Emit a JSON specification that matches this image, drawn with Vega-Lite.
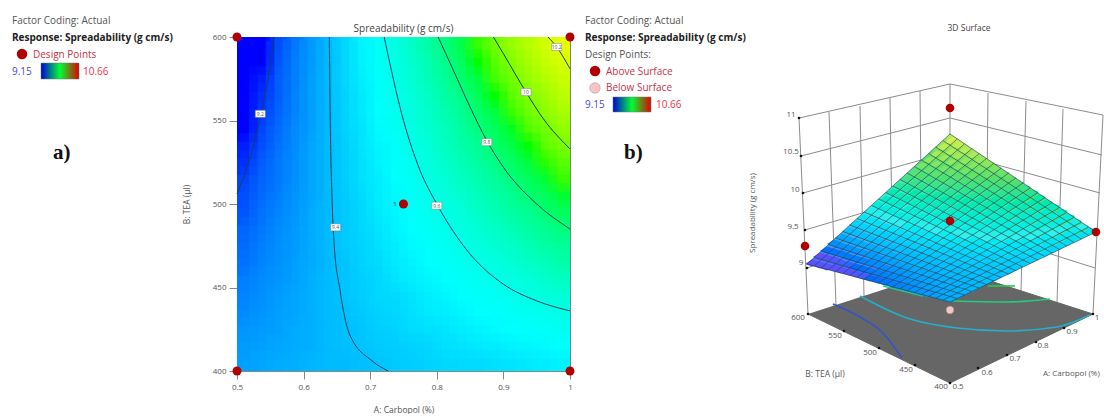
{"$schema":"https://vega.github.io/schema/vega-lite/v6.json","background":"white","padding":{"left":0,"top":16,"right":0,"bottom":0},"spacing":0,"bounds":"flush","config":{"view":{"stroke":null},"font":"Open Sans"},
"datasets":{
"cells":[
{"a":0.5125,"b":405,"z":9.33,"u":950,"v":299},{"a":0.5375,"b":405,"z":9.34,"u":957,"v":296},{"a":0.5625,"b":405,"z":9.35,"u":965,"v":292},{"a":0.5875,"b":405,"z":9.36,"u":972,"v":289},{"a":0.6125,"b":405,"z":9.37,"u":979,"v":285},{"a":0.6375,"b":405,"z":9.38,"u":987,"v":281},{"a":0.6625,"b":405,"z":9.38,"u":994,"v":278},{"a":0.6875,"b":405,"z":9.39,"u":1001,"v":274},{"a":0.7125,"b":405,"z":9.4,"u":1009,"v":271},{"a":0.7375,"b":405,"z":9.41,"u":1016,"v":267},{"a":0.7625,"b":405,"z":9.42,"u":1024,"v":263},{"a":0.7875,"b":405,"z":9.43,"u":1031,"v":260},{"a":0.8125,"b":405,"z":9.44,"u":1038,"v":256},{"a":0.8375,"b":405,"z":9.45,"u":1046,"v":253},{"a":0.8625,"b":405,"z":9.45,"u":1053,"v":249},{"a":0.8875,"b":405,"z":9.46,"u":1060,"v":246},{"a":0.9125,"b":405,"z":9.47,"u":1068,"v":242},{"a":0.9375,"b":405,"z":9.48,"u":1075,"v":238},{"a":0.9625,"b":405,"z":9.49,"u":1082,"v":235},{"a":0.9875,"b":405,"z":9.5,"u":1090,"v":231},
{"a":0.5125,"b":415,"z":9.32,"u":943,"v":297},{"a":0.5375,"b":415,"z":9.33,"u":950,"v":294},{"a":0.5625,"b":415,"z":9.34,"u":958,"v":290},{"a":0.5875,"b":415,"z":9.35,"u":965,"v":286},{"a":0.6125,"b":415,"z":9.36,"u":972,"v":282},{"a":0.6375,"b":415,"z":9.38,"u":980,"v":279},{"a":0.6625,"b":415,"z":9.39,"u":987,"v":275},{"a":0.6875,"b":415,"z":9.4,"u":994,"v":271},{"a":0.7125,"b":415,"z":9.41,"u":1002,"v":268},{"a":0.7375,"b":415,"z":9.42,"u":1009,"v":264},{"a":0.7625,"b":415,"z":9.43,"u":1016,"v":260},{"a":0.7875,"b":415,"z":9.44,"u":1024,"v":256},{"a":0.8125,"b":415,"z":9.46,"u":1031,"v":253},{"a":0.8375,"b":415,"z":9.47,"u":1038,"v":249},{"a":0.8625,"b":415,"z":9.48,"u":1046,"v":245},{"a":0.8875,"b":415,"z":9.49,"u":1053,"v":241},{"a":0.9125,"b":415,"z":9.5,"u":1060,"v":238},{"a":0.9375,"b":415,"z":9.51,"u":1068,"v":234},{"a":0.9625,"b":415,"z":9.52,"u":1075,"v":230},{"a":0.9875,"b":415,"z":9.53,"u":1082,"v":227},
{"a":0.5125,"b":425,"z":9.31,"u":936,"v":295},{"a":0.5375,"b":425,"z":9.32,"u":943,"v":292},{"a":0.5625,"b":425,"z":9.33,"u":950,"v":288},{"a":0.5875,"b":425,"z":9.35,"u":958,"v":284},{"a":0.6125,"b":425,"z":9.36,"u":965,"v":280},{"a":0.6375,"b":425,"z":9.38,"u":972,"v":276},{"a":0.6625,"b":425,"z":9.39,"u":979,"v":272},{"a":0.6875,"b":425,"z":9.4,"u":987,"v":268},{"a":0.7125,"b":425,"z":9.42,"u":994,"v":264},{"a":0.7375,"b":425,"z":9.43,"u":1002,"v":261},{"a":0.7625,"b":425,"z":9.45,"u":1009,"v":257},{"a":0.7875,"b":425,"z":9.46,"u":1016,"v":253},{"a":0.8125,"b":425,"z":9.47,"u":1024,"v":249},{"a":0.8375,"b":425,"z":9.49,"u":1031,"v":245},{"a":0.8625,"b":425,"z":9.5,"u":1038,"v":241},{"a":0.8875,"b":425,"z":9.52,"u":1046,"v":237},{"a":0.9125,"b":425,"z":9.53,"u":1053,"v":233},{"a":0.9375,"b":425,"z":9.54,"u":1060,"v":229},{"a":0.9625,"b":425,"z":9.56,"u":1068,"v":226},{"a":0.9875,"b":425,"z":9.57,"u":1075,"v":222},
{"a":0.5125,"b":435,"z":9.29,"u":928,"v":294},{"a":0.5375,"b":435,"z":9.31,"u":936,"v":289},{"a":0.5625,"b":435,"z":9.33,"u":943,"v":285},{"a":0.5875,"b":435,"z":9.34,"u":950,"v":281},{"a":0.6125,"b":435,"z":9.36,"u":958,"v":277},{"a":0.6375,"b":435,"z":9.38,"u":965,"v":273},{"a":0.6625,"b":435,"z":9.39,"u":972,"v":269},{"a":0.6875,"b":435,"z":9.41,"u":980,"v":265},{"a":0.7125,"b":435,"z":9.43,"u":987,"v":261},{"a":0.7375,"b":435,"z":9.44,"u":994,"v":257},{"a":0.7625,"b":435,"z":9.46,"u":1002,"v":253},{"a":0.7875,"b":435,"z":9.48,"u":1009,"v":249},{"a":0.8125,"b":435,"z":9.49,"u":1016,"v":245},{"a":0.8375,"b":435,"z":9.51,"u":1024,"v":241},{"a":0.8625,"b":435,"z":9.53,"u":1031,"v":237},{"a":0.8875,"b":435,"z":9.54,"u":1039,"v":233},{"a":0.9125,"b":435,"z":9.56,"u":1046,"v":229},{"a":0.9375,"b":435,"z":9.58,"u":1053,"v":225},{"a":0.9625,"b":435,"z":9.59,"u":1060,"v":221},{"a":0.9875,"b":435,"z":9.61,"u":1068,"v":217},
{"a":0.5125,"b":445,"z":9.28,"u":921,"v":292},{"a":0.5375,"b":445,"z":9.3,"u":928,"v":287},{"a":0.5625,"b":445,"z":9.32,"u":936,"v":283},{"a":0.5875,"b":445,"z":9.34,"u":943,"v":279},{"a":0.6125,"b":445,"z":9.36,"u":950,"v":275},{"a":0.6375,"b":445,"z":9.38,"u":958,"v":271},{"a":0.6625,"b":445,"z":9.4,"u":965,"v":267},{"a":0.6875,"b":445,"z":9.42,"u":972,"v":262},{"a":0.7125,"b":445,"z":9.44,"u":980,"v":258},{"a":0.7375,"b":445,"z":9.45,"u":987,"v":254},{"a":0.7625,"b":445,"z":9.47,"u":995,"v":250},{"a":0.7875,"b":445,"z":9.49,"u":1002,"v":246},{"a":0.8125,"b":445,"z":9.51,"u":1009,"v":242},{"a":0.8375,"b":445,"z":9.53,"u":1017,"v":237},{"a":0.8625,"b":445,"z":9.55,"u":1024,"v":233},{"a":0.8875,"b":445,"z":9.57,"u":1031,"v":229},{"a":0.9125,"b":445,"z":9.59,"u":1039,"v":225},{"a":0.9375,"b":445,"z":9.61,"u":1046,"v":221},{"a":0.9625,"b":445,"z":9.63,"u":1053,"v":216},{"a":0.9875,"b":445,"z":9.65,"u":1061,"v":212},
{"a":0.5125,"b":455,"z":9.27,"u":914,"v":290},{"a":0.5375,"b":455,"z":9.29,"u":921,"v":285},{"a":0.5625,"b":455,"z":9.31,"u":928,"v":281},{"a":0.5875,"b":455,"z":9.33,"u":936,"v":277},{"a":0.6125,"b":455,"z":9.36,"u":943,"v":272},{"a":0.6375,"b":455,"z":9.38,"u":950,"v":268},{"a":0.6625,"b":455,"z":9.4,"u":958,"v":264},{"a":0.6875,"b":455,"z":9.42,"u":965,"v":259},{"a":0.7125,"b":455,"z":9.44,"u":972,"v":255},{"a":0.7375,"b":455,"z":9.47,"u":980,"v":251},{"a":0.7625,"b":455,"z":9.49,"u":987,"v":246},{"a":0.7875,"b":455,"z":9.51,"u":994,"v":242},{"a":0.8125,"b":455,"z":9.53,"u":1002,"v":238},{"a":0.8375,"b":455,"z":9.55,"u":1009,"v":233},{"a":0.8625,"b":455,"z":9.58,"u":1017,"v":229},{"a":0.8875,"b":455,"z":9.6,"u":1024,"v":225},{"a":0.9125,"b":455,"z":9.62,"u":1031,"v":220},{"a":0.9375,"b":455,"z":9.64,"u":1039,"v":216},{"a":0.9625,"b":455,"z":9.67,"u":1046,"v":212},{"a":0.9875,"b":455,"z":9.69,"u":1053,"v":207},
{"a":0.5125,"b":465,"z":9.25,"u":907,"v":288},{"a":0.5375,"b":465,"z":9.28,"u":914,"v":283},{"a":0.5625,"b":465,"z":9.3,"u":921,"v":279},{"a":0.5875,"b":465,"z":9.33,"u":928,"v":274},{"a":0.6125,"b":465,"z":9.35,"u":936,"v":270},{"a":0.6375,"b":465,"z":9.38,"u":943,"v":265},{"a":0.6625,"b":465,"z":9.4,"u":951,"v":261},{"a":0.6875,"b":465,"z":9.43,"u":958,"v":256},{"a":0.7125,"b":465,"z":9.45,"u":965,"v":252},{"a":0.7375,"b":465,"z":9.48,"u":973,"v":247},{"a":0.7625,"b":465,"z":9.5,"u":980,"v":243},{"a":0.7875,"b":465,"z":9.53,"u":987,"v":238},{"a":0.8125,"b":465,"z":9.55,"u":995,"v":234},{"a":0.8375,"b":465,"z":9.58,"u":1002,"v":230},{"a":0.8625,"b":465,"z":9.6,"u":1009,"v":225},{"a":0.8875,"b":465,"z":9.63,"u":1017,"v":221},{"a":0.9125,"b":465,"z":9.65,"u":1024,"v":216},{"a":0.9375,"b":465,"z":9.68,"u":1031,"v":212},{"a":0.9625,"b":465,"z":9.7,"u":1039,"v":207},{"a":0.9875,"b":465,"z":9.73,"u":1046,"v":203},
{"a":0.5125,"b":475,"z":9.24,"u":899,"v":286},{"a":0.5375,"b":475,"z":9.27,"u":907,"v":281},{"a":0.5625,"b":475,"z":9.3,"u":914,"v":277},{"a":0.5875,"b":475,"z":9.32,"u":921,"v":272},{"a":0.6125,"b":475,"z":9.35,"u":929,"v":267},{"a":0.6375,"b":475,"z":9.38,"u":936,"v":263},{"a":0.6625,"b":475,"z":9.41,"u":943,"v":258},{"a":0.6875,"b":475,"z":9.43,"u":951,"v":253},{"a":0.7125,"b":475,"z":9.46,"u":958,"v":249},{"a":0.7375,"b":475,"z":9.49,"u":966,"v":244},{"a":0.7625,"b":475,"z":9.52,"u":973,"v":240},{"a":0.7875,"b":475,"z":9.54,"u":980,"v":235},{"a":0.8125,"b":475,"z":9.57,"u":988,"v":230},{"a":0.8375,"b":475,"z":9.6,"u":995,"v":226},{"a":0.8625,"b":475,"z":9.63,"u":1002,"v":221},{"a":0.8875,"b":475,"z":9.65,"u":1010,"v":216},{"a":0.9125,"b":475,"z":9.68,"u":1017,"v":212},{"a":0.9375,"b":475,"z":9.71,"u":1024,"v":207},{"a":0.9625,"b":475,"z":9.74,"u":1032,"v":203},{"a":0.9875,"b":475,"z":9.76,"u":1039,"v":198},
{"a":0.5125,"b":485,"z":9.23,"u":892,"v":284},{"a":0.5375,"b":485,"z":9.26,"u":899,"v":279},{"a":0.5625,"b":485,"z":9.29,"u":907,"v":274},{"a":0.5875,"b":485,"z":9.32,"u":914,"v":270},{"a":0.6125,"b":485,"z":9.35,"u":921,"v":265},{"a":0.6375,"b":485,"z":9.38,"u":929,"v":260},{"a":0.6625,"b":485,"z":9.41,"u":936,"v":255},{"a":0.6875,"b":485,"z":9.44,"u":943,"v":250},{"a":0.7125,"b":485,"z":9.47,"u":951,"v":246},{"a":0.7375,"b":485,"z":9.5,"u":958,"v":241},{"a":0.7625,"b":485,"z":9.53,"u":966,"v":236},{"a":0.7875,"b":485,"z":9.56,"u":973,"v":231},{"a":0.8125,"b":485,"z":9.59,"u":980,"v":227},{"a":0.8375,"b":485,"z":9.62,"u":988,"v":222},{"a":0.8625,"b":485,"z":9.65,"u":995,"v":217},{"a":0.8875,"b":485,"z":9.68,"u":1002,"v":212},{"a":0.9125,"b":485,"z":9.71,"u":1010,"v":207},{"a":0.9375,"b":485,"z":9.74,"u":1017,"v":203},{"a":0.9625,"b":485,"z":9.77,"u":1024,"v":198},{"a":0.9875,"b":485,"z":9.8,"u":1032,"v":193},
{"a":0.5125,"b":495,"z":9.21,"u":885,"v":282},{"a":0.5375,"b":495,"z":9.25,"u":892,"v":277},{"a":0.5625,"b":495,"z":9.28,"u":899,"v":272},{"a":0.5875,"b":495,"z":9.31,"u":907,"v":267},{"a":0.6125,"b":495,"z":9.35,"u":914,"v":262},{"a":0.6375,"b":495,"z":9.38,"u":922,"v":257},{"a":0.6625,"b":495,"z":9.41,"u":929,"v":252},{"a":0.6875,"b":495,"z":9.44,"u":936,"v":247},{"a":0.7125,"b":495,"z":9.48,"u":944,"v":243},{"a":0.7375,"b":495,"z":9.51,"u":951,"v":238},{"a":0.7625,"b":495,"z":9.54,"u":958,"v":233},{"a":0.7875,"b":495,"z":9.58,"u":966,"v":228},{"a":0.8125,"b":495,"z":9.61,"u":973,"v":223},{"a":0.8375,"b":495,"z":9.64,"u":980,"v":218},{"a":0.8625,"b":495,"z":9.68,"u":988,"v":213},{"a":0.8875,"b":495,"z":9.71,"u":995,"v":208},{"a":0.9125,"b":495,"z":9.74,"u":1002,"v":203},{"a":0.9375,"b":495,"z":9.77,"u":1010,"v":198},{"a":0.9625,"b":495,"z":9.81,"u":1017,"v":193},{"a":0.9875,"b":495,"z":9.84,"u":1024,"v":188},
{"a":0.5125,"b":505,"z":9.2,"u":878,"v":280},{"a":0.5375,"b":505,"z":9.24,"u":885,"v":275},{"a":0.5625,"b":505,"z":9.27,"u":892,"v":270},{"a":0.5875,"b":505,"z":9.31,"u":899,"v":265},{"a":0.6125,"b":505,"z":9.34,"u":907,"v":260},{"a":0.6375,"b":505,"z":9.38,"u":914,"v":255},{"a":0.6625,"b":505,"z":9.41,"u":921,"v":250},{"a":0.6875,"b":505,"z":9.45,"u":929,"v":245},{"a":0.7125,"b":505,"z":9.49,"u":936,"v":239},{"a":0.7375,"b":505,"z":9.52,"u":944,"v":234},{"a":0.7625,"b":505,"z":9.56,"u":951,"v":229},{"a":0.7875,"b":505,"z":9.59,"u":958,"v":224},{"a":0.8125,"b":505,"z":9.63,"u":966,"v":219},{"a":0.8375,"b":505,"z":9.66,"u":973,"v":214},{"a":0.8625,"b":505,"z":9.7,"u":980,"v":209},{"a":0.8875,"b":505,"z":9.73,"u":988,"v":204},{"a":0.9125,"b":505,"z":9.77,"u":995,"v":199},{"a":0.9375,"b":505,"z":9.81,"u":1002,"v":194},{"a":0.9625,"b":505,"z":9.84,"u":1010,"v":189},{"a":0.9875,"b":505,"z":9.88,"u":1017,"v":184},
{"a":0.5125,"b":515,"z":9.19,"u":870,"v":278},{"a":0.5375,"b":515,"z":9.23,"u":878,"v":273},{"a":0.5625,"b":515,"z":9.26,"u":885,"v":268},{"a":0.5875,"b":515,"z":9.3,"u":892,"v":262},{"a":0.6125,"b":515,"z":9.34,"u":900,"v":257},{"a":0.6375,"b":515,"z":9.38,"u":907,"v":252},{"a":0.6625,"b":515,"z":9.42,"u":914,"v":247},{"a":0.6875,"b":515,"z":9.46,"u":922,"v":241},{"a":0.7125,"b":515,"z":9.49,"u":929,"v":236},{"a":0.7375,"b":515,"z":9.53,"u":936,"v":231},{"a":0.7625,"b":515,"z":9.57,"u":944,"v":226},{"a":0.7875,"b":515,"z":9.61,"u":951,"v":221},{"a":0.8125,"b":515,"z":9.65,"u":958,"v":215},{"a":0.8375,"b":515,"z":9.69,"u":966,"v":210},{"a":0.8625,"b":515,"z":9.72,"u":973,"v":205},{"a":0.8875,"b":515,"z":9.76,"u":980,"v":200},{"a":0.9125,"b":515,"z":9.8,"u":988,"v":194},{"a":0.9375,"b":515,"z":9.84,"u":995,"v":189},{"a":0.9625,"b":515,"z":9.88,"u":1003,"v":184},{"a":0.9875,"b":515,"z":9.92,"u":1010,"v":179},
{"a":0.5125,"b":525,"z":9.17,"u":863,"v":276},{"a":0.5375,"b":525,"z":9.22,"u":870,"v":271},{"a":0.5625,"b":525,"z":9.26,"u":878,"v":265},{"a":0.5875,"b":525,"z":9.3,"u":885,"v":260},{"a":0.6125,"b":525,"z":9.34,"u":892,"v":255},{"a":0.6375,"b":525,"z":9.38,"u":900,"v":249},{"a":0.6625,"b":525,"z":9.42,"u":907,"v":244},{"a":0.6875,"b":525,"z":9.46,"u":914,"v":239},{"a":0.7125,"b":525,"z":9.5,"u":922,"v":233},{"a":0.7375,"b":525,"z":9.54,"u":929,"v":228},{"a":0.7625,"b":525,"z":9.58,"u":937,"v":222},{"a":0.7875,"b":525,"z":9.63,"u":944,"v":217},{"a":0.8125,"b":525,"z":9.67,"u":951,"v":212},{"a":0.8375,"b":525,"z":9.71,"u":959,"v":206},{"a":0.8625,"b":525,"z":9.75,"u":966,"v":201},{"a":0.8875,"b":525,"z":9.79,"u":973,"v":196},{"a":0.9125,"b":525,"z":9.83,"u":981,"v":190},{"a":0.9375,"b":525,"z":9.87,"u":988,"v":185},{"a":0.9625,"b":525,"z":9.91,"u":995,"v":179},{"a":0.9875,"b":525,"z":9.95,"u":1003,"v":174},
{"a":0.5125,"b":535,"z":9.16,"u":856,"v":274},{"a":0.5375,"b":535,"z":9.2,"u":863,"v":269},{"a":0.5625,"b":535,"z":9.25,"u":871,"v":263},{"a":0.5875,"b":535,"z":9.29,"u":878,"v":258},{"a":0.6125,"b":535,"z":9.34,"u":885,"v":252},{"a":0.6375,"b":535,"z":9.38,"u":893,"v":247},{"a":0.6625,"b":535,"z":9.42,"u":900,"v":241},{"a":0.6875,"b":535,"z":9.47,"u":907,"v":236},{"a":0.7125,"b":535,"z":9.51,"u":915,"v":230},{"a":0.7375,"b":535,"z":9.55,"u":922,"v":225},{"a":0.7625,"b":535,"z":9.6,"u":929,"v":219},{"a":0.7875,"b":535,"z":9.64,"u":937,"v":214},{"a":0.8125,"b":535,"z":9.69,"u":944,"v":208},{"a":0.8375,"b":535,"z":9.73,"u":951,"v":202},{"a":0.8625,"b":535,"z":9.77,"u":959,"v":197},{"a":0.8875,"b":535,"z":9.82,"u":966,"v":191},{"a":0.9125,"b":535,"z":9.86,"u":973,"v":186},{"a":0.9375,"b":535,"z":9.9,"u":981,"v":180},{"a":0.9625,"b":535,"z":9.95,"u":988,"v":175},{"a":0.9875,"b":535,"z":9.99,"u":995,"v":169},
{"a":0.5125,"b":545,"z":9.15,"u":849,"v":272},{"a":0.5375,"b":545,"z":9.19,"u":856,"v":267},{"a":0.5625,"b":545,"z":9.24,"u":863,"v":261},{"a":0.5875,"b":545,"z":9.29,"u":871,"v":255},{"a":0.6125,"b":545,"z":9.33,"u":878,"v":250},{"a":0.6375,"b":545,"z":9.38,"u":885,"v":244},{"a":0.6625,"b":545,"z":9.43,"u":893,"v":238},{"a":0.6875,"b":545,"z":9.47,"u":900,"v":233},{"a":0.7125,"b":545,"z":9.52,"u":907,"v":227},{"a":0.7375,"b":545,"z":9.57,"u":915,"v":221},{"a":0.7625,"b":545,"z":9.61,"u":922,"v":216},{"a":0.7875,"b":545,"z":9.66,"u":929,"v":210},{"a":0.8125,"b":545,"z":9.7,"u":937,"v":204},{"a":0.8375,"b":545,"z":9.75,"u":944,"v":199},{"a":0.8625,"b":545,"z":9.8,"u":951,"v":193},{"a":0.8875,"b":545,"z":9.84,"u":959,"v":187},{"a":0.9125,"b":545,"z":9.89,"u":966,"v":181},{"a":0.9375,"b":545,"z":9.94,"u":973,"v":176},{"a":0.9625,"b":545,"z":9.98,"u":981,"v":170},{"a":0.9875,"b":545,"z":10.03,"u":988,"v":164},
{"a":0.5125,"b":555,"z":9.13,"u":841,"v":270},{"a":0.5375,"b":555,"z":9.18,"u":849,"v":265},{"a":0.5625,"b":555,"z":9.23,"u":856,"v":259},{"a":0.5875,"b":555,"z":9.28,"u":863,"v":253},{"a":0.6125,"b":555,"z":9.33,"u":871,"v":247},{"a":0.6375,"b":555,"z":9.38,"u":878,"v":241},{"a":0.6625,"b":555,"z":9.43,"u":885,"v":235},{"a":0.6875,"b":555,"z":9.48,"u":893,"v":230},{"a":0.7125,"b":555,"z":9.53,"u":900,"v":224},{"a":0.7375,"b":555,"z":9.58,"u":907,"v":218},{"a":0.7625,"b":555,"z":9.63,"u":915,"v":212},{"a":0.7875,"b":555,"z":9.67,"u":922,"v":206},{"a":0.8125,"b":555,"z":9.72,"u":929,"v":200},{"a":0.8375,"b":555,"z":9.77,"u":937,"v":195},{"a":0.8625,"b":555,"z":9.82,"u":944,"v":189},{"a":0.8875,"b":555,"z":9.87,"u":952,"v":183},{"a":0.9125,"b":555,"z":9.92,"u":959,"v":177},{"a":0.9375,"b":555,"z":9.97,"u":966,"v":171},{"a":0.9625,"b":555,"z":10.02,"u":974,"v":166},{"a":0.9875,"b":555,"z":10.07,"u":981,"v":160},
{"a":0.5125,"b":565,"z":9.12,"u":834,"v":268},{"a":0.5375,"b":565,"z":9.17,"u":841,"v":263},{"a":0.5625,"b":565,"z":9.22,"u":849,"v":257},{"a":0.5875,"b":565,"z":9.28,"u":856,"v":251},{"a":0.6125,"b":565,"z":9.33,"u":863,"v":245},{"a":0.6375,"b":565,"z":9.38,"u":871,"v":239},{"a":0.6625,"b":565,"z":9.43,"u":878,"v":233},{"a":0.6875,"b":565,"z":9.48,"u":885,"v":227},{"a":0.7125,"b":565,"z":9.54,"u":893,"v":221},{"a":0.7375,"b":565,"z":9.59,"u":900,"v":215},{"a":0.7625,"b":565,"z":9.64,"u":908,"v":209},{"a":0.7875,"b":565,"z":9.69,"u":915,"v":203},{"a":0.8125,"b":565,"z":9.74,"u":922,"v":197},{"a":0.8375,"b":565,"z":9.79,"u":930,"v":191},{"a":0.8625,"b":565,"z":9.85,"u":937,"v":185},{"a":0.8875,"b":565,"z":9.9,"u":944,"v":179},{"a":0.9125,"b":565,"z":9.95,"u":952,"v":173},{"a":0.9375,"b":565,"z":10,"u":959,"v":167},{"a":0.9625,"b":565,"z":10.05,"u":966,"v":161},{"a":0.9875,"b":565,"z":10.11,"u":974,"v":155},
{"a":0.5125,"b":575,"z":9.11,"u":827,"v":267},{"a":0.5375,"b":575,"z":9.16,"u":834,"v":260},{"a":0.5625,"b":575,"z":9.22,"u":842,"v":254},{"a":0.5875,"b":575,"z":9.27,"u":849,"v":248},{"a":0.6125,"b":575,"z":9.33,"u":856,"v":242},{"a":0.6375,"b":575,"z":9.38,"u":864,"v":236},{"a":0.6625,"b":575,"z":9.44,"u":871,"v":230},{"a":0.6875,"b":575,"z":9.49,"u":878,"v":224},{"a":0.7125,"b":575,"z":9.54,"u":886,"v":218},{"a":0.7375,"b":575,"z":9.6,"u":893,"v":211},{"a":0.7625,"b":575,"z":9.65,"u":900,"v":205},{"a":0.7875,"b":575,"z":9.71,"u":908,"v":199},{"a":0.8125,"b":575,"z":9.76,"u":915,"v":193},{"a":0.8375,"b":575,"z":9.82,"u":922,"v":187},{"a":0.8625,"b":575,"z":9.87,"u":930,"v":181},{"a":0.8875,"b":575,"z":9.93,"u":937,"v":175},{"a":0.9125,"b":575,"z":9.98,"u":944,"v":169},{"a":0.9375,"b":575,"z":10.04,"u":952,"v":162},{"a":0.9625,"b":575,"z":10.09,"u":959,"v":156},{"a":0.9875,"b":575,"z":10.14,"u":966,"v":150},
{"a":0.5125,"b":585,"z":9.1,"u":820,"v":265},{"a":0.5375,"b":585,"z":9.15,"u":827,"v":258},{"a":0.5625,"b":585,"z":9.21,"u":834,"v":252},{"a":0.5875,"b":585,"z":9.27,"u":841,"v":246},{"a":0.6125,"b":585,"z":9.32,"u":849,"v":240},{"a":0.6375,"b":585,"z":9.38,"u":856,"v":233},{"a":0.6625,"b":585,"z":9.44,"u":864,"v":227},{"a":0.6875,"b":585,"z":9.5,"u":871,"v":221},{"a":0.7125,"b":585,"z":9.55,"u":878,"v":214},{"a":0.7375,"b":585,"z":9.61,"u":886,"v":208},{"a":0.7625,"b":585,"z":9.67,"u":893,"v":202},{"a":0.7875,"b":585,"z":9.72,"u":900,"v":196},{"a":0.8125,"b":585,"z":9.78,"u":908,"v":189},{"a":0.8375,"b":585,"z":9.84,"u":915,"v":183},{"a":0.8625,"b":585,"z":9.9,"u":922,"v":177},{"a":0.8875,"b":585,"z":9.95,"u":930,"v":170},{"a":0.9125,"b":585,"z":10.01,"u":937,"v":164},{"a":0.9375,"b":585,"z":10.07,"u":944,"v":158},{"a":0.9625,"b":585,"z":10.13,"u":952,"v":152},{"a":0.9875,"b":585,"z":10.18,"u":959,"v":145},
{"a":0.5125,"b":595,"z":9.08,"u":812,"v":263},{"a":0.5375,"b":595,"z":9.14,"u":820,"v":256},{"a":0.5625,"b":595,"z":9.2,"u":827,"v":250},{"a":0.5875,"b":595,"z":9.26,"u":834,"v":243},{"a":0.6125,"b":595,"z":9.32,"u":842,"v":237},{"a":0.6375,"b":595,"z":9.38,"u":849,"v":231},{"a":0.6625,"b":595,"z":9.44,"u":856,"v":224},{"a":0.6875,"b":595,"z":9.5,"u":864,"v":218},{"a":0.7125,"b":595,"z":9.56,"u":871,"v":211},{"a":0.7375,"b":595,"z":9.62,"u":878,"v":205},{"a":0.7625,"b":595,"z":9.68,"u":886,"v":199},{"a":0.7875,"b":595,"z":9.74,"u":893,"v":192},{"a":0.8125,"b":595,"z":9.8,"u":900,"v":186},{"a":0.8375,"b":595,"z":9.86,"u":908,"v":179},{"a":0.8625,"b":595,"z":9.92,"u":915,"v":173},{"a":0.8875,"b":595,"z":9.98,"u":922,"v":166},{"a":0.9125,"b":595,"z":10.04,"u":930,"v":160},{"a":0.9375,"b":595,"z":10.1,"u":937,"v":154},{"a":0.9625,"b":595,"z":10.16,"u":944,"v":147},{"a":0.9875,"b":595,"z":10.22,"u":952,"v":141}
],
"contours":[
{"l":"9.2","a":0.5,"b":506},{"l":"9.2","a":0.515,"b":522},{"l":"9.2","a":0.535,"b":552},{"l":"9.2","a":0.548,"b":578},{"l":"9.2","a":0.556,"b":600},
{"l":"9.4","a":0.6386,"b":600},{"l":"9.4","a":0.64,"b":550},{"l":"9.4","a":0.643,"b":500},{"l":"9.4","a":0.646,"b":475},{"l":"9.4","a":0.654,"b":450},{"l":"9.4","a":0.669,"b":422},{"l":"9.4","a":0.703,"b":406},{"l":"9.4","a":0.727,"b":400},
{"l":"9.6","a":0.721,"b":600},{"l":"9.6","a":0.75,"b":550},{"l":"9.6","a":0.775,"b":520},{"l":"9.6","a":0.8,"b":500},{"l":"9.6","a":0.85,"b":470},{"l":"9.6","a":0.9,"b":452},{"l":"9.6","a":0.95,"b":442},{"l":"9.6","a":1,"b":436},
{"l":"9.8","a":0.802,"b":600},{"l":"9.8","a":0.825,"b":580},{"l":"9.8","a":0.85,"b":558},{"l":"9.8","a":0.875,"b":538},{"l":"9.8","a":0.9,"b":522},{"l":"9.8","a":0.95,"b":500},{"l":"9.8","a":1,"b":485},
{"l":"10","a":0.885,"b":600},{"l":"10","a":0.9,"b":590},{"l":"10","a":0.934,"b":567},{"l":"10","a":0.96,"b":551},{"l":"10","a":1,"b":533},
{"l":"10.2","a":0.967,"b":600},{"l":"10.2","a":0.98,"b":594},{"l":"10.2","a":1,"b":581}],
"contourLabels":[{"l":"9.2","a":0.535,"b":554},{"l":"9.4","a":0.648,"b":486},{"l":"9.6","a":0.8,"b":499},{"l":"9.8","a":0.875,"b":537},{"l":"10","a":0.934,"b":567},{"l":"10.2","a":0.98,"b":594}],
"design":[{"a":0.5,"b":600},{"a":1,"b":600},{"a":0.5,"b":400},{"a":1,"b":400},{"a":0.75,"b":500}],
"wall":[
{"u":799,"v":118,"u2":950,"v2":84},{"u":801,"v":156,"u2":950,"v2":118},{"u":803,"v":193,"u2":950,"v2":152},{"u":805,"v":230,"u2":950,"v2":187},{"u":807,"v":268,"u2":950,"v2":222},
{"u":950,"v":84,"u2":1103,"v2":115},{"u":950,"v":118,"u2":1102,"v2":155},{"u":950,"v":152,"u2":1100,"v2":193},{"u":950,"v":187,"u2":1098,"v2":231},{"u":950,"v":222,"u2":1095,"v2":268},
{"u":799,"v":118,"u2":808,"v2":314},{"u":950,"v":84,"u2":950,"v2":268},{"u":1103,"v":115,"u2":1093,"v2":314},
{"u":829,"v":112,"u2":836,"v2":305},{"u":860,"v":106,"u2":864,"v2":296},{"u":890,"v":98,"u2":893,"v2":287},{"u":920,"v":91,"u2":922,"v2":277},
{"u":988,"v":93,"u2":986,"v2":280},{"u":1026,"v":101,"u2":1021,"v2":291},{"u":1063,"v":109,"u2":1057,"v2":303},{"u":950,"v":302,"u2":950,"v2":310}],
"base":[{"k":1,"u":808,"v":314},{"k":2,"u":950,"v":383},{"k":3,"u":1093,"v":314},{"k":4,"u":950,"v":268}],
"outline":[{"k":1,"u":950,"v":302},{"k":2,"u":1096,"v":232},{"k":3,"u":950,"v":134},{"k":4,"u":807,"v":264}],
"baseLines":[
{"l":"9.2","k":1,"u":833,"v":304},{"l":"9.2","k":2,"u":860,"v":317},{"l":"9.2","k":3,"u":883,"v":333},{"l":"9.2","k":4,"u":902,"v":358},
{"l":"9.4","k":1,"u":860,"v":296},{"l":"9.4","k":2,"u":907,"v":318},{"l":"9.4","k":3,"u":957,"v":328},{"l":"9.4","k":4,"u":1007,"v":331},{"l":"9.4","k":5,"u":1057,"v":327},{"l":"9.4","k":6,"u":1090,"v":315},
{"l":"9.6","k":1,"u":883,"v":286},{"l":"9.6","k":2,"u":923,"v":296},{"l":"9.6b","k":1,"u":953,"v":301},{"l":"9.6b","k":2,"u":1007,"v":302},{"l":"9.6b","k":3,"u":1050,"v":299},
{"l":"9.8","k":1,"u":988,"v":286},{"l":"9.8","k":2,"u":1015,"v":286}],
"mesh":[
{"u":950,"v":302,"u2":807,"v2":264},{"u":957.3,"v":298.5,"u2":814.2,"v2":257.5},{"u":964.6,"v":295,"u2":821.3,"v2":251},{"u":971.9,"v":291.5,"u2":828.5,"v2":244.5},{"u":979.2,"v":288,"u2":835.6,"v2":238},{"u":986.5,"v":284.5,"u2":842.8,"v2":231.5},{"u":993.8,"v":281,"u2":849.9,"v2":225},{"u":1001.1,"v":277.5,"u2":857.1,"v2":218.5},{"u":1008.4,"v":274,"u2":864.2,"v2":212},{"u":1015.7,"v":270.5,"u2":871.4,"v2":205.5},{"u":1023,"v":267,"u2":878.5,"v2":199},{"u":1030.3,"v":263.5,"u2":885.7,"v2":192.5},{"u":1037.6,"v":260,"u2":892.8,"v2":186},{"u":1044.9,"v":256.5,"u2":900,"v2":179.5},{"u":1052.2,"v":253,"u2":907.1,"v2":173},{"u":1059.5,"v":249.5,"u2":914.3,"v2":166.5},{"u":1066.8,"v":246,"u2":921.4,"v2":160},{"u":1074.1,"v":242.5,"u2":928.6,"v2":153.5},{"u":1081.4,"v":239,"u2":935.7,"v2":147},{"u":1088.7,"v":235.5,"u2":942.9,"v2":140.5},{"u":1096,"v":232,"u2":950,"v2":134},
{"u":950,"v":302,"u2":1096,"v2":232},{"u":942.9,"v":300.1,"u2":1088.7,"v2":227.1},{"u":935.7,"v":298.2,"u2":1081.4,"v2":222.2},{"u":928.6,"v":296.3,"u2":1074.1,"v2":217.3},{"u":921.4,"v":294.4,"u2":1066.8,"v2":212.4},{"u":914.3,"v":292.5,"u2":1059.5,"v2":207.5},{"u":907.1,"v":290.6,"u2":1052.2,"v2":202.6},{"u":900,"v":288.7,"u2":1044.9,"v2":197.7},{"u":892.8,"v":286.8,"u2":1037.6,"v2":192.8},{"u":885.7,"v":284.9,"u2":1030.3,"v2":187.9},{"u":878.5,"v":283,"u2":1023,"v2":183},{"u":871.4,"v":281.1,"u2":1015.7,"v2":178.1},{"u":864.2,"v":279.2,"u2":1008.4,"v2":173.2},{"u":857.1,"v":277.3,"u2":1001.1,"v2":168.3},{"u":849.9,"v":275.4,"u2":993.8,"v2":163.4},{"u":842.8,"v":273.5,"u2":986.5,"v2":158.5},{"u":835.6,"v":271.6,"u2":979.2,"v2":153.6},{"u":828.5,"v":269.7,"u2":971.9,"v2":148.7},{"u":821.3,"v":267.8,"u2":964.6,"v2":143.8},{"u":814.2,"v":265.9,"u2":957.3,"v2":138.9},{"u":807,"v":264,"u2":950,"v2":134}],
"ticks":[{"u":799,"v":118},{"u":801,"v":156},{"u":803,"v":193},{"u":805,"v":230},{"u":807,"v":268},{"u":808,"v":314},{"u":844,"v":331},{"u":879,"v":348},{"u":915,"v":365},{"u":950,"v":383},{"u":978,"v":368},{"u":1007,"v":355},{"u":1036,"v":342},{"u":1064,"v":328},{"u":1093,"v":314}],
"tickText":[{"t":"11","u":791,"v":115},{"t":"10.5","u":791,"v":152},{"t":"10","u":795,"v":190},{"t":"9.5","u":793,"v":227},{"t":"9","u":801,"v":263},{"t":"600","u":798,"v":318},{"t":"550","u":835,"v":336},{"t":"500","u":870,"v":353},{"t":"450","u":906,"v":370},{"t":"400","u":941,"v":387},{"t":"0.5","u":958,"v":387},{"t":"0.6","u":987,"v":373},{"t":"0.7","u":1015,"v":359},{"t":"0.8","u":1043,"v":346},{"t":"0.9","u":1072,"v":332},{"t":"1","u":1097,"v":318}],
"above":[{"u":950,"v":108},{"u":950,"v":221},{"u":805,"v":246},{"u":1096,"v":232}],
"below":[{"u":950,"v":310}]
},
"hconcat":[
{"width":237,"height":334,"data":{"values":[{}]},"layer":[
{"mark":{"type":"text","text":"Factor Coding: Actual","align":"left","fontSize":10,"color":"#555555","x":12,"y":-16},"encoding":{}},
{"mark":{"type":"text","text":"Response: Spreadability (g cm/s)","align":"left","fontSize":10,"fontWeight":"bold","color":"#222222","x":12,"y":1},"encoding":{}},
{"mark":{"type":"point","filled":true,"color":"#b00000","opacity":1,"size":110,"x":22,"y":17},"encoding":{}},
{"mark":{"type":"text","text":"Design Points","align":"left","fontSize":10,"color":"#c8324a","x":33,"y":18},"encoding":{}},
{"mark":{"type":"text","text":"9.15","align":"left","fontSize":10,"color":"#4a4ad8","x":12,"y":34.5},"encoding":{}},
{"mark":{"type":"rect","x":41,"x2":79,"y":26,"y2":42,"stroke":"#777777","strokeWidth":0.5,"fill":{"gradient":"linear","x1":0,"y1":0,"x2":1,"y2":0,"stops":[{"offset":0,"color":"#0000e0"},{"offset":0.5,"color":"#00ff30"},{"offset":1,"color":"#e00000"}]}},"encoding":{}},
{"mark":{"type":"text","text":"10.66","align":"left","fontSize":10,"color":"#e8324a","x":83,"y":34.5},"encoding":{}},
{"mark":{"type":"text","text":"a)","align":"left","fontSize":21,"font":"Liberation Serif","fontWeight":"bold","color":"#111111","x":53,"y":116},"encoding":{}}
]},
{"width":333,"height":334,"view":{"stroke":"#808080"},
"title":{"text":"Spreadability (g cm/s)","fontSize":10,"fontWeight":"normal","color":"#444444","offset":-1},
"encoding":{
"x":{"field":"a","type":"quantitative","scale":{"domain":[0.5,1],"nice":false,"zero":false},"axis":{"values":[0.5,0.6,0.7,0.8,0.9,1],"format":"~g","title":"A: Carbopol (%)","titleFontSize":8.5,"titleFontWeight":"normal","titleColor":"#555555","titlePadding":14,"labelFontSize":8,"labelColor":"#555555","labelPadding":4,"tickSize":8,"tickColor":"#888888","domainColor":"#888888","grid":false,"labelFlush":false}},
"y":{"field":"b","type":"quantitative","scale":{"domain":[400,600],"nice":false,"zero":false},"axis":{"values":[400,450,500,550,600],"title":"B: TEA (µl)","titleFontSize":8.5,"titleFontWeight":"normal","titleColor":"#555555","titlePadding":21,"labelFontSize":8,"labelColor":"#555555","labelPadding":3,"tickSize":8,"tickColor":"#888888","domainColor":"#888888","grid":false}},
"color":{"field":"z","type":"quantitative","legend":null,"scale":{"domain":[9.15,9.53,9.9,10.28,10.66],"range":["#0000ff","#00ffff","#00ff00","#ffff00","#ff0000"],"clamp":true}}},
"layer":[
{"data":{"name":"cells"},"mark":{"type":"rect","width":17.5,"height":17.5,"clip":true}},
{"data":{"name":"cells"},"mark":{"type":"rect","width":17.5,"height":17.5,"clip":true,"xOffset":-4.15,"yOffset":4.15}},
{"data":{"name":"cells"},"mark":{"type":"rect","width":17.5,"height":17.5,"clip":true,"opacity":0.5,"xOffset":4.15,"yOffset":-4.15}},
{"data":{"name":"cells"},"mark":{"type":"rect","width":17.5,"height":17.5,"clip":true,"opacity":0.33,"xOffset":4.15,"yOffset":4.15}},
{"data":{"name":"cells"},"mark":{"type":"rect","width":17.5,"height":17.5,"clip":true,"opacity":0.25,"xOffset":-4.15,"yOffset":-4.15}},
{"data":{"name":"contours"},"mark":{"type":"line","color":"#14405a","strokeWidth":1,"interpolate":"monotone"},"encoding":{"color":{"value":"#14405a"},"detail":{"field":"l"},"order":{"field":"b","sort":"descending"}}},
{"data":{"name":"contourLabels"},"mark":{"type":"rect","width":10,"height":7,"fill":"white","stroke":"#808080","strokeWidth":0.5},"encoding":{"color":{"value":null}}},
{"data":{"name":"contourLabels"},"mark":{"type":"text","fontSize":5},"encoding":{"color":{"value":"#555555"},"text":{"field":"l"}}},
{"data":{"values":[{"t":"5","a":0.737,"b":500}]},"mark":{"type":"text","fontSize":5},"encoding":{"color":{"value":"#555555"},"text":{"field":"t"}}},
{"data":{"name":"design"},"mark":{"type":"point","filled":true,"opacity":1,"size":80},"encoding":{"color":{"value":"#b00000"}}}
]},
{"width":175,"height":334,"data":{"values":[{}]},"layer":[
{"mark":{"type":"text","text":"Factor Coding: Actual","align":"left","fontSize":10,"color":"#555555","x":15,"y":-16},"encoding":{}},
{"mark":{"type":"text","text":"Response: Spreadability (g cm/s)","align":"left","fontSize":10,"fontWeight":"bold","color":"#222222","x":15,"y":1},"encoding":{}},
{"mark":{"type":"text","text":"Design Points:","align":"left","fontSize":10,"color":"#555555","x":15,"y":18},"encoding":{}},
{"mark":{"type":"point","filled":true,"color":"#b00000","opacity":1,"size":110,"x":25,"y":34},"encoding":{}},
{"mark":{"type":"text","text":"Above Surface","align":"left","fontSize":10,"color":"#c8324a","x":36,"y":34.5},"encoding":{}},
{"mark":{"type":"point","filled":true,"fill":"#f8c4c4","stroke":"#aaaaaa","strokeWidth":0.7,"opacity":1,"size":110,"x":25,"y":51},"encoding":{}},
{"mark":{"type":"text","text":"Below Surface","align":"left","fontSize":10,"color":"#c8324a","x":36,"y":51},"encoding":{}},
{"mark":{"type":"text","text":"9.15","align":"left","fontSize":10,"color":"#4a4ad8","x":15,"y":67.5},"encoding":{}},
{"mark":{"type":"rect","x":43,"x2":81,"y":60,"y2":75,"stroke":"#777777","strokeWidth":0.5,"fill":{"gradient":"linear","x1":0,"y1":0,"x2":1,"y2":0,"stops":[{"offset":0,"color":"#0000e0"},{"offset":0.5,"color":"#00ff30"},{"offset":1,"color":"#e00000"}]}},"encoding":{}},
{"mark":{"type":"text","text":"10.66","align":"left","fontSize":10,"color":"#e8324a","x":86,"y":67.5},"encoding":{}},
{"mark":{"type":"text","text":"b)","align":"left","fontSize":21,"font":"Liberation Serif","fontWeight":"bold","color":"#111111","x":54,"y":116},"encoding":{}}
]},
{"width":359,"height":334,
"encoding":{"x":{"field":"u","type":"quantitative","axis":null,"scale":{"domain":[745,1104],"nice":false,"zero":false}},"y":{"field":"v","type":"quantitative","axis":null,"scale":{"domain":[371,37],"nice":false,"zero":false}}},
"layer":[
{"data":{"name":"wall"},"mark":{"type":"rule","color":"#8c8c8c","strokeWidth":1},"encoding":{"x2":{"field":"u2"},"y2":{"field":"v2"}}},
{"data":{"name":"base"},"mark":{"type":"line","fill":"#666666","stroke":"#666666","strokeWidth":1},"encoding":{"order":{"field":"k"}}},
{"data":{"name":"baseLines"},"mark":{"type":"line","interpolate":"monotone","strokeWidth":1.6},"encoding":{"order":{"field":"k"},"color":{"field":"l","type":"nominal","legend":null,"scale":{"domain":["9.2","9.4","9.6","9.6b","9.8"],"range":["#2f55c8","#22b0cc","#22cc80","#22cc80","#22cc50"]}}}},
{"data":{"name":"below"},"mark":{"type":"point","filled":true,"fill":"#f8c4c4","stroke":"#b0a0a0","strokeWidth":0.5,"opacity":1,"size":55},"encoding":{}},
{"data":{"name":"outline"},"mark":{"type":"line","stroke":null,"fill":{"gradient":"linear","x1":0.1,"y1":0.9,"x2":0.6,"y2":0,"stops":[{"offset":0,"color":"#5a50ff"},{"offset":0.45,"color":"#30f0f0"},{"offset":0.8,"color":"#50e070"},{"offset":1,"color":"#e0f050"}]}},"encoding":{"order":{"field":"k"}}},
{"data":{"name":"cells"},"mark":{"type":"point","filled":true,"opacity":1,"size":200,"shape":"M0,-0.5L1,-0.15L0,0.5L-1,0.15Z"},"encoding":{"color":{"field":"z","type":"quantitative","legend":null,"scale":{"domain":[9.15,9.53,9.9,10.28,10.66],"range":["#5a50ff","#30f0f0","#50e070","#e8f050","#ff5050"],"clamp":true}}}},
{"data":{"name":"mesh"},"mark":{"type":"rule","color":"#24404a","strokeWidth":0.7,"opacity":0.9},"encoding":{"x2":{"field":"u2"},"y2":{"field":"v2"}}},
{"data":{"name":"ticks"},"mark":{"type":"point","filled":true,"color":"#111111","opacity":1,"size":7},"encoding":{}},
{"data":{"name":"tickText"},"mark":{"type":"text","fontSize":8,"color":"#555555"},"encoding":{"text":{"field":"t"}}},
{"data":{"name":"above"},"mark":{"type":"point","filled":true,"color":"#b00000","opacity":1,"size":75},"encoding":{}},
{"data":{"values":[{"t":"3D Surface","u":969,"v":28}]},"mark":{"type":"text","fontSize":8.5,"color":"#444444"},"encoding":{"text":{"field":"t"}}},
{"data":{"values":[{"t":"B: TEA (µl)","u":825,"v":374}]},"mark":{"type":"text","fontSize":8.5,"color":"#555555"},"encoding":{"text":{"field":"t"}}},
{"data":{"values":[{"t":"A: Carbopol (%)","u":1043,"v":374}]},"mark":{"type":"text","fontSize":8,"color":"#555555","align":"left"},"encoding":{"text":{"field":"t"}}},
{"data":{"values":[{"t":"Spreadability (g cm/s)","u":753,"v":213}]},"mark":{"type":"text","fontSize":8,"color":"#555555","angle":270},"encoding":{"text":{"field":"t"}}}
]}
]}
